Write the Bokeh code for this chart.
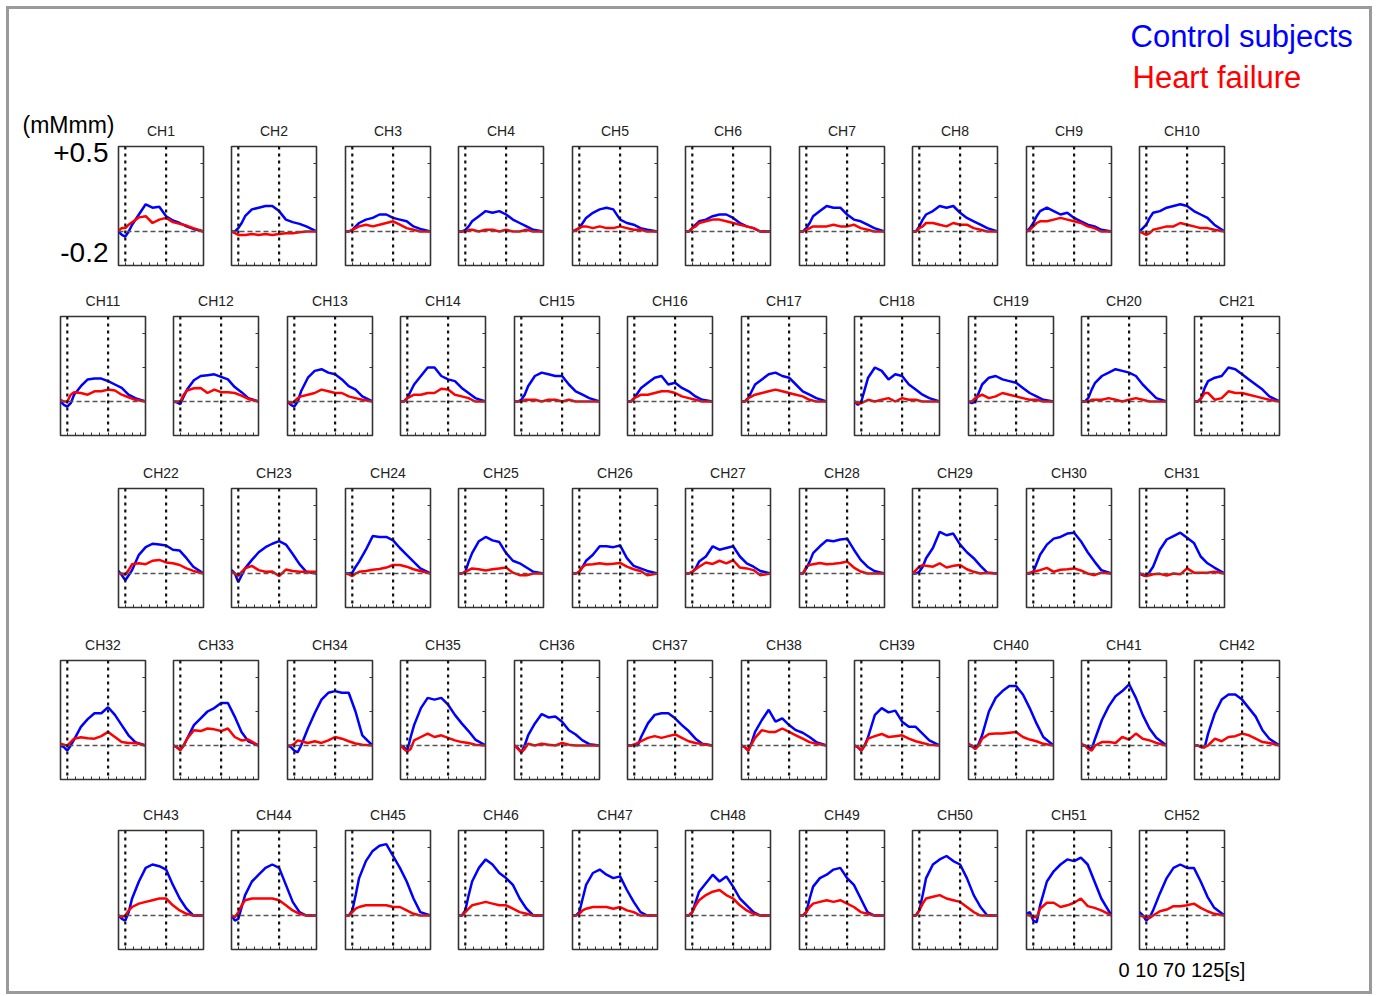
from bokeh.plotting import figure
from bokeh.layouts import column, row
from bokeh.models import (Range1d, Span, Label, LinearAxis, FixedTicker,
                          CustomJSTickFormatter, Title)
from bokeh.embed import file_html
from bokeh.resources import INLINE

# ---------------- data ----------------
time_s = [0, 5, 10, 15, 20, 30, 40, 50, 60, 70, 80, 90, 100, 110, 125]
channels = [f"CH{i}" for i in range(1, 53)]
series_names = ["Control subjects", "Heart failure"]
y_scale_ticks = [0.5, -0.2]
y_scale_labels = ["+0.5", "-0.2"]
y_unit = "(mMmm)"
time_note = "0 10 70 125[s]"

control = [
    [0, -0.02, -0.03, 0.0, 0.04, 0.10, 0.16, 0.14, 0.145, 0.09, 0.065, 0.05, 0.03, 0.015, 0],
    [0, 0.0, 0.02, 0.05, 0.09, 0.13, 0.14, 0.15, 0.15, 0.12, 0.07, 0.055, 0.045, 0.03, 0],
    [0, 0.0, 0.01, 0.03, 0.05, 0.07, 0.08, 0.1, 0.1, 0.08, 0.07, 0.06, 0.03, 0.015, 0],
    [0, 0.0, 0.01, 0.03, 0.06, 0.09, 0.12, 0.11, 0.12, 0.1, 0.07, 0.05, 0.03, 0.01, 0],
    [0, 0.01, 0.02, 0.05, 0.08, 0.11, 0.13, 0.14, 0.13, 0.07, 0.05, 0.04, 0.02, 0.01, 0],
    [0, 0.0, 0.02, 0.04, 0.06, 0.07, 0.09, 0.1, 0.1, 0.08, 0.05, 0.03, 0.02, 0.0, 0],
    [0, 0.0, 0.02, 0.05, 0.09, 0.12, 0.15, 0.14, 0.14, 0.1, 0.07, 0.06, 0.04, 0.02, 0],
    [0, 0.0, 0.03, 0.07, 0.1, 0.12, 0.15, 0.14, 0.15, 0.11, 0.08, 0.06, 0.04, 0.02, 0],
    [0, 0.02, 0.05, 0.09, 0.12, 0.14, 0.12, 0.1, 0.11, 0.08, 0.06, 0.04, 0.03, 0.01, 0],
    [0, 0.02, 0.04, 0.08, 0.11, 0.12, 0.14, 0.15, 0.16, 0.15, 0.12, 0.1, 0.08, 0.04, 0],
    [0, -0.02, -0.03, -0.01, 0.04, 0.09, 0.13, 0.135, 0.135, 0.12, 0.1, 0.08, 0.04, 0.02, 0],
    [0, -0.005, -0.015, 0.03, 0.07, 0.125, 0.15, 0.155, 0.16, 0.145, 0.13, 0.085, 0.055, 0.02, 0],
    [0, -0.02, -0.03, 0.0, 0.06, 0.14, 0.18, 0.19, 0.17, 0.16, 0.13, 0.09, 0.07, 0.03, 0],
    [0, 0.0, 0.02, 0.06, 0.1, 0.15, 0.2, 0.2, 0.15, 0.13, 0.12, 0.08, 0.05, 0.02, 0],
    [0, 0.0, 0.01, 0.04, 0.09, 0.15, 0.17, 0.16, 0.15, 0.15, 0.1, 0.06, 0.04, 0.02, 0],
    [0, 0.0, 0.02, 0.05, 0.08, 0.11, 0.14, 0.15, 0.1, 0.11, 0.08, 0.06, 0.03, 0.01, 0],
    [0, 0.0, 0.02, 0.06, 0.1, 0.13, 0.16, 0.17, 0.15, 0.14, 0.1, 0.06, 0.04, 0.02, 0],
    [0, -0.02, 0.0, 0.07, 0.14, 0.2, 0.18, 0.13, 0.16, 0.15, 0.1, 0.07, 0.04, 0.02, 0],
    [0, -0.01, 0.0, 0.05, 0.1, 0.14, 0.15, 0.13, 0.12, 0.11, 0.08, 0.05, 0.03, 0.01, 0],
    [0, 0.0, 0.02, 0.07, 0.11, 0.15, 0.17, 0.19, 0.18, 0.17, 0.15, 0.1, 0.06, 0.02, 0],
    [0, 0.0, 0.02, 0.08, 0.12, 0.14, 0.15, 0.2, 0.19, 0.16, 0.13, 0.1, 0.07, 0.03, 0],
    [0.015, -0.01, -0.04, -0.01, 0.02, 0.11, 0.155, 0.175, 0.17, 0.165, 0.14, 0.135, 0.09, 0.04, 0],
    [0.02, 0.0, -0.05, -0.01, 0.03, 0.08, 0.125, 0.155, 0.175, 0.19, 0.17, 0.115, 0.055, 0.01, 0],
    [0, 0.0, 0.005, 0.04, 0.07, 0.14, 0.22, 0.215, 0.215, 0.195, 0.15, 0.11, 0.07, 0.03, 0],
    [0, 0.0, 0.01, 0.07, 0.12, 0.19, 0.215, 0.195, 0.185, 0.12, 0.075, 0.06, 0.035, 0.01, 0],
    [0, 0.0, 0.01, 0.04, 0.075, 0.11, 0.16, 0.16, 0.155, 0.165, 0.09, 0.045, 0.03, 0.015, 0],
    [0, 0.0, 0.01, 0.03, 0.07, 0.1, 0.16, 0.14, 0.15, 0.16, 0.1, 0.06, 0.04, 0.015, 0],
    [0, 0.0, 0.03, 0.07, 0.12, 0.16, 0.195, 0.19, 0.2, 0.205, 0.14, 0.08, 0.04, 0.015, 0],
    [0, 0.0, 0.01, 0.04, 0.09, 0.15, 0.245, 0.225, 0.235, 0.17, 0.125, 0.09, 0.045, 0.005, 0],
    [0, 0.0, 0.01, 0.06, 0.11, 0.17, 0.205, 0.215, 0.235, 0.24, 0.19, 0.125, 0.07, 0.02, 0],
    [0, -0.01, -0.015, 0.01, 0.04, 0.14, 0.2, 0.22, 0.24, 0.21, 0.18, 0.1, 0.06, 0.035, 0],
    [0, -0.01, -0.03, 0.0, 0.035, 0.11, 0.155, 0.19, 0.19, 0.225, 0.18, 0.12, 0.06, 0.02, 0],
    [0, -0.01, -0.027, 0.0, 0.04, 0.12, 0.16, 0.2, 0.22, 0.25, 0.25, 0.17, 0.08, 0.025, 0],
    [0, -0.01, -0.03, -0.04, 0.0, 0.1, 0.19, 0.27, 0.31, 0.32, 0.31, 0.31, 0.2, 0.06, 0],
    [0, -0.01, -0.03, 0.05, 0.12, 0.22, 0.28, 0.27, 0.28, 0.24, 0.18, 0.13, 0.085, 0.035, 0],
    [0, -0.015, -0.04, 0.0, 0.06, 0.13, 0.185, 0.165, 0.17, 0.14, 0.09, 0.065, 0.03, 0.008, 0],
    [0, 0.0, 0.005, 0.0, 0.05, 0.13, 0.18, 0.19, 0.19, 0.16, 0.12, 0.085, 0.04, 0.01, 0],
    [0, -0.01, -0.03, 0.02, 0.08, 0.15, 0.21, 0.14, 0.16, 0.12, 0.09, 0.075, 0.05, 0.02, 0],
    [0, -0.01, -0.03, 0.0, 0.05, 0.18, 0.22, 0.195, 0.205, 0.14, 0.11, 0.11, 0.07, 0.03, 0],
    [0, -0.005, -0.02, 0.01, 0.06, 0.2, 0.28, 0.32, 0.35, 0.35, 0.3, 0.22, 0.13, 0.05, 0],
    [0, 0.0, -0.01, -0.02, 0.04, 0.15, 0.23, 0.29, 0.32, 0.36, 0.28, 0.18, 0.1, 0.045, 0],
    [0, 0.0, -0.01, -0.01, 0.07, 0.19, 0.27, 0.3, 0.3, 0.27, 0.22, 0.17, 0.09, 0.04, 0],
    [0, -0.02, -0.03, 0.02, 0.1, 0.2, 0.28, 0.3, 0.29, 0.27, 0.18, 0.1, 0.04, 0.0, 0],
    [0, -0.03, -0.02, 0.05, 0.12, 0.2, 0.24, 0.28, 0.3, 0.28, 0.18, 0.08, 0.02, 0.0, 0],
    [0, 0.0, 0.03, 0.12, 0.22, 0.32, 0.38, 0.41, 0.42, 0.35, 0.28, 0.2, 0.1, 0.02, 0],
    [0, 0.0, 0.03, 0.12, 0.2, 0.28, 0.33, 0.3, 0.25, 0.22, 0.18, 0.1, 0.04, 0.0, 0],
    [0, 0.0, 0.02, 0.1, 0.18, 0.25, 0.27, 0.24, 0.22, 0.23, 0.15, 0.08, 0.02, 0.0, 0],
    [0, 0.0, 0.02, 0.08, 0.14, 0.19, 0.24, 0.2, 0.23, 0.17, 0.1, 0.06, 0.02, 0.0, 0],
    [0, 0.0, 0.02, 0.1, 0.17, 0.22, 0.24, 0.27, 0.28, 0.22, 0.18, 0.1, 0.02, 0.0, 0],
    [0, 0.0, 0.03, 0.12, 0.22, 0.3, 0.33, 0.35, 0.32, 0.3, 0.22, 0.12, 0.05, 0.0, 0],
    [0.01, 0.02, -0.03, -0.04, 0.06, 0.2, 0.26, 0.3, 0.33, 0.32, 0.34, 0.3, 0.2, 0.1, 0],
    [0.02, 0.0, -0.03, -0.01, 0.03, 0.13, 0.22, 0.28, 0.3, 0.28, 0.28, 0.2, 0.11, 0.045, 0],
]

heart_failure = [
    [0.005, 0.02, 0.02, 0.04, 0.055, 0.083, 0.09, 0.05, 0.07, 0.08, 0.055, 0.045, 0.035, 0.02, 0],
    [0, -0.01, -0.02, -0.02, -0.02, -0.015, -0.02, -0.015, -0.02, -0.015, -0.01, -0.01, -0.005, 0, 0],
    [0, 0.0, 0.01, 0.02, 0.03, 0.04, 0.03, 0.04, 0.05, 0.06, 0.04, 0.02, 0.01, 0.0, 0],
    [0, 0.0, 0.0, 0.01, 0.01, 0.0, 0.01, 0.01, 0.0, 0.01, 0.0, 0.0, 0.01, 0.0, 0],
    [0, 0.01, 0.02, 0.03, 0.03, 0.02, 0.03, 0.02, 0.02, 0.03, 0.02, 0.01, 0.01, 0.0, 0],
    [0, 0.0, 0.02, 0.03, 0.05, 0.06, 0.07, 0.07, 0.06, 0.05, 0.04, 0.03, 0.02, 0.0, 0],
    [0, 0.0, 0.01, 0.02, 0.03, 0.03, 0.03, 0.04, 0.03, 0.03, 0.04, 0.02, 0.01, 0.0, 0],
    [0, 0.0, 0.02, 0.03, 0.05, 0.05, 0.04, 0.03, 0.05, 0.04, 0.04, 0.02, 0.01, 0.0, 0],
    [0, 0.01, 0.03, 0.05, 0.06, 0.06, 0.07, 0.08, 0.07, 0.06, 0.05, 0.03, 0.02, 0.0, 0],
    [0, -0.01, -0.02, -0.01, 0.01, 0.02, 0.03, 0.03, 0.05, 0.04, 0.03, 0.02, 0.02, 0.01, 0],
    [0.01, 0.0, 0.0, 0.04, 0.055, 0.05, 0.04, 0.06, 0.06, 0.07, 0.065, 0.04, 0.025, 0.01, 0],
    [0, 0.0, 0.0, 0.04, 0.065, 0.078, 0.08, 0.05, 0.07, 0.055, 0.055, 0.05, 0.035, 0.015, 0],
    [0, -0.01, 0.0, 0.02, 0.03, 0.04, 0.05, 0.07, 0.06, 0.05, 0.05, 0.03, 0.02, 0.01, 0],
    [0, 0.0, 0.02, 0.03, 0.04, 0.04, 0.05, 0.05, 0.075, 0.07, 0.04, 0.03, 0.02, 0.0, 0],
    [0, 0.0, 0.0, 0.01, 0.01, 0.01, 0.0, 0.01, 0.01, 0.0, 0.01, 0.0, 0.0, 0.0, 0],
    [0, 0.0, 0.02, 0.03, 0.04, 0.04, 0.05, 0.06, 0.06, 0.05, 0.03, 0.02, 0.01, 0.0, 0],
    [0, 0.0, 0.02, 0.03, 0.04, 0.05, 0.06, 0.07, 0.06, 0.05, 0.04, 0.03, 0.01, 0.0, 0],
    [0, -0.01, -0.01, 0.0, 0.01, 0.0, 0.01, 0.02, 0.0, 0.02, 0.01, 0.01, 0.0, 0.0, 0],
    [0, 0.0, 0.02, 0.03, 0.04, 0.02, 0.03, 0.05, 0.04, 0.03, 0.02, 0.01, 0.01, 0.0, 0],
    [0, 0.0, 0.0, 0.01, 0.01, 0.01, 0.02, 0.01, 0.0, 0.01, 0.02, 0.01, 0.0, 0.0, 0],
    [0, 0.0, 0.02, 0.05, 0.05, 0.01, 0.02, 0.06, 0.05, 0.05, 0.04, 0.03, 0.02, 0.01, 0],
    [0, 0.0, -0.005, 0.02, 0.055, 0.06, 0.055, 0.075, 0.08, 0.065, 0.06, 0.05, 0.03, 0.015, 0],
    [0.01, 0.0, -0.015, 0.01, 0.03, 0.045, 0.02, 0.01, 0.012, -0.015, 0.023, 0.015, 0.01, 0.01, 0.01],
    [0, -0.005, -0.015, 0.0, 0.01, 0.015, 0.022, 0.027, 0.035, 0.05, 0.05, 0.04, 0.025, 0.015, 0],
    [0, 0.0, 0.01, 0.02, 0.03, 0.025, 0.018, 0.025, 0.03, 0.035, 0.005, -0.01, -0.01, 0.0, 0],
    [0, 0.0, 0.01, 0.04, 0.052, 0.055, 0.06, 0.055, 0.058, 0.062, 0.04, 0.025, 0.015, -0.01, 0],
    [0, 0.0, 0.01, 0.025, 0.04, 0.065, 0.056, 0.075, 0.06, 0.078, 0.035, 0.03, 0.02, -0.01, 0],
    [0, 0.0, 0.04, 0.05, 0.055, 0.062, 0.055, 0.058, 0.062, 0.07, 0.035, 0.012, 0.0, 0.0, 0],
    [0, 0.02, 0.04, 0.05, 0.045, 0.04, 0.06, 0.035, 0.045, 0.05, 0.025, 0.01, 0.0, 0.005, 0],
    [0, 0.005, 0.01, 0.015, 0.02, 0.033, 0.01, 0.022, 0.025, 0.03, 0.018, 0.0, -0.01, 0.005, 0],
    [0, -0.005, -0.015, -0.01, -0.005, -0.002, -0.012, 0.0, -0.005, 0.03, 0.005, 0.005, 0.005, 0.01, 0],
    [0.01, 0.005, 0.0, 0.02, 0.04, 0.048, 0.042, 0.04, 0.055, 0.08, 0.05, 0.02, 0.015, 0.015, 0],
    [0, -0.01, -0.027, 0.0, 0.04, 0.09, 0.085, 0.1, 0.095, 0.085, 0.1, 0.05, 0.03, 0.035, 0],
    [0, 0.0, 0.01, 0.03, 0.025, 0.015, 0.025, 0.015, 0.03, 0.05, 0.04, 0.025, 0.012, 0.005, 0],
    [0, -0.02, -0.035, -0.02, 0.03, 0.05, 0.07, 0.05, 0.06, 0.045, 0.03, 0.02, 0.015, 0.005, 0],
    [0, -0.02, -0.04, -0.02, 0.01, 0.0, 0.01, 0.005, 0.0, 0.015, 0.005, 0.0, 0.0, 0.0, 0],
    [0, 0.0, 0.005, 0.015, 0.025, 0.045, 0.055, 0.045, 0.055, 0.065, 0.045, 0.025, 0.015, 0.008, 0],
    [0, -0.01, -0.03, 0.01, 0.045, 0.09, 0.08, 0.08, 0.1, 0.08, 0.06, 0.04, 0.02, 0.01, 0],
    [0, -0.01, -0.03, 0.0, 0.04, 0.055, 0.068, 0.05, 0.055, 0.06, 0.04, 0.025, 0.015, 0.005, 0],
    [0.01, 0.0, -0.02, 0.0, 0.04, 0.068, 0.07, 0.07, 0.075, 0.08, 0.05, 0.035, 0.025, 0.01, 0],
    [0.01, 0.0, -0.02, -0.03, 0.0, 0.02, 0.02, 0.015, 0.05, 0.035, 0.07, 0.04, 0.03, 0.015, 0],
    [0, 0.0, -0.01, -0.01, 0.0, 0.04, 0.025, 0.05, 0.055, 0.07, 0.06, 0.04, 0.02, 0.015, 0],
    [0, -0.01, 0.0, 0.03, 0.05, 0.07, 0.08, 0.09, 0.1, 0.1, 0.06, 0.03, 0.01, 0.0, 0],
    [0, -0.01, 0.02, 0.06, 0.09, 0.1, 0.1, 0.1, 0.1, 0.09, 0.06, 0.03, 0.01, 0.0, 0],
    [0, 0.0, 0.02, 0.04, 0.05, 0.06, 0.06, 0.06, 0.06, 0.05, 0.05, 0.03, 0.01, 0.0, 0],
    [0, 0.0, 0.02, 0.04, 0.06, 0.07, 0.08, 0.07, 0.06, 0.06, 0.04, 0.02, 0.01, 0.0, 0],
    [0, 0.0, 0.01, 0.03, 0.04, 0.05, 0.05, 0.05, 0.04, 0.05, 0.03, 0.02, 0.0, 0.0, 0],
    [0, 0.0, 0.02, 0.06, 0.09, 0.12, 0.14, 0.15, 0.12, 0.1, 0.06, 0.03, 0.01, 0.0, 0],
    [0, 0.0, 0.02, 0.05, 0.07, 0.08, 0.09, 0.08, 0.09, 0.07, 0.05, 0.02, 0.01, 0.0, 0],
    [0, 0.0, 0.03, 0.07, 0.1, 0.11, 0.12, 0.1, 0.09, 0.08, 0.05, 0.02, 0.0, 0.0, 0],
    [0.005, 0.0, -0.01, -0.01, 0.04, 0.075, 0.075, 0.05, 0.06, 0.075, 0.1, 0.055, 0.045, 0.03, 0],
    [0.0, -0.005, -0.01, -0.015, 0.0, 0.025, 0.035, 0.055, 0.055, 0.06, 0.07, 0.045, 0.025, 0.01, 0],
]

marker_times = [10, 70]          # dotted vertical lines (s)
x_tick_times = [10, 22, 34, 46, 58, 70, 82, 94, 106, 118]
y_tick_vals = [0.0, 0.2, 0.4]
row_counts = [10, 11, 10, 11, 10]

# ---------------- styling / layout ----------------
FONT = "Liberation Sans"
BLUE, RED = "#0000ff", "#ff0000"
FRAME_W, FRAME_H = 85, 119
PITCH = 113.45
ROW_X0 = [118, 60, 118, 60, 118]      # page x of first frame in each row
ROW_TOP = [45, 35, 35, 35, 35]        # top border of each row
ROW_BOT = [16, 18, 18, 16, 42]        # bottom border of each row
CONTENT_L, CONTENT_R = 9, 1369
HEADER_H = 92
ANNOT_W = 107                         # width of the left annotation strip in row 1


def empty_fmt():
    return CustomJSTickFormatter(code="return ''")


def make_panel(idx, lb, rb, tb, bb):
    p = figure(frame_width=FRAME_W, frame_height=FRAME_H,
               x_range=Range1d(0, 125), y_range=Range1d(-0.2, 0.5),
               x_axis_type=None, y_axis_type=None,
               toolbar_location=None, output_backend="svg",
               min_border_left=lb, min_border_right=rb,
               min_border_top=tb, min_border_bottom=bb,
               outline_line_color="#333333", outline_line_width=1.6,
               title=channels[idx])
    p.title.align = "center"
    p.title.offset = -4
    p.title.text_font = FONT
    p.title.text_font_size = "14px"
    p.title.text_font_style = "normal"
    p.title.text_color = "#222222"
    p.title.standoff = 16

    xb = LinearAxis(ticker=FixedTicker(ticks=x_tick_times), formatter=empty_fmt(),
                    major_tick_in=3, major_tick_out=0, minor_tick_line_color=None,
                    axis_line_color=None, major_label_text_font_size="0px",
                    major_label_standoff=0, major_tick_line_color="#333333")
    p.add_layout(xb, "below")
    yr = LinearAxis(ticker=FixedTicker(ticks=y_tick_vals), formatter=empty_fmt(),
                    major_tick_in=3, major_tick_out=0, minor_tick_line_color=None,
                    axis_line_color=None, major_label_text_font_size="0px",
                    major_label_standoff=0, major_tick_line_color="#333333")
    p.add_layout(yr, "right")

    p.add_layout(Span(location=0, dimension="width", line_color="#555555",
                      line_width=1.5, line_dash="5 3"))
    for t in marker_times:
        p.add_layout(Span(location=t, dimension="height", line_color="#111111",
                          line_width=2.2, line_dash="3 4"))

    p.line(time_s, control[idx], line_color=BLUE, line_width=2.5)
    p.line(time_s, heart_failure[idx], line_color=RED, line_width=2.5)
    return p, xb


def make_scale_strip(width, tb, bb):
    """Narrow plot at the left of row 1 carrying the shared y scale and unit."""
    s = figure(frame_width=2, frame_height=FRAME_H,
               x_range=Range1d(0, 1), y_range=Range1d(-0.2, 0.5),
               x_axis_type=None, y_axis_type=None,
               toolbar_location=None, output_backend="svg",
               min_border_left=width - 4, min_border_right=2,
               min_border_top=tb, min_border_bottom=bb,
               outline_line_color=None, title=None)
    # label positions nudged so the text sits like the original's
    tick_pos = [y_scale_ticks[0] - 0.038, y_scale_ticks[1] + 0.074]
    ax = LinearAxis(ticker=FixedTicker(ticks=tick_pos),
                    major_label_overrides={tick_pos[0]: y_scale_labels[0],
                                           tick_pos[1]: y_scale_labels[1]},
                    major_tick_in=0, major_tick_out=0, minor_tick_line_color=None,
                    axis_line_color=None, major_label_standoff=4,
                    major_label_text_font=FONT, major_label_text_font_size="28px",
                    major_label_text_color="#000000")
    s.add_layout(ax, "left")
    s.add_layout(Title(text=y_unit, align="left", offset=22 - 112, standoff=17,
                       text_font=FONT, text_font_size="23px",
                       text_font_style="normal", text_color="#000000"), "above")
    return s


panels, bottom_axes = [], []
rows = []
start = 0
for r, n in enumerate(row_counts):
    frames = [round(ROW_X0[r] + k * PITCH) for k in range(n)]
    first_left = CONTENT_L + (ANNOT_W if r == 0 else 0)
    lbs = [frames[0] - first_left] + [24] * (n - 1)
    edges = [f - lb for f, lb in zip(frames, lbs)] + [CONTENT_R]
    figs = []
    for k in range(n):
        rb = edges[k + 1] - (frames[k] + FRAME_W)
        p, xb = make_panel(start + k, lbs[k], rb, ROW_TOP[r], ROW_BOT[r])
        figs.append(p)
        panels.append(p)
        bottom_axes.append(xb)
    if r == 0:
        figs = [make_scale_strip(ANNOT_W, ROW_TOP[0], ROW_BOT[0])] + figs
    rows.append(row(*figs))
    start += n

# time annotation under CH52
xb52 = bottom_axes[-1]
xb52.axis_label = time_note
xb52.axis_label_text_font = FONT
xb52.axis_label_text_font_size = "20px"
xb52.axis_label_text_font_style = "normal"
xb52.axis_label_text_color = "#000000"
xb52.axis_label_standoff = 9

# header with coloured series names (data units = pixels, y downward)
hdr_w = CONTENT_R - CONTENT_L
header = figure(width=hdr_w, height=HEADER_H, x_range=Range1d(0, hdr_w),
                y_range=Range1d(HEADER_H, 0), x_axis_type=None, y_axis_type=None,
                toolbar_location=None, output_backend="svg", title=None,
                min_border=0, outline_line_color=None)
header.add_layout(Label(x=1121, y=27, text=series_names[0], text_color=BLUE,
                        text_font=FONT, text_font_size="31px",
                        text_baseline="middle", text_align="left"))
header.add_layout(Label(x=1123, y=67.5, text=series_names[1], text_color=RED,
                        text_font=FONT, text_font_size="31px",
                        text_baseline="middle", text_align="left"))

layout = column(header, *rows,
                styles={"border": "3px solid #9a9a9a", "margin": "6px 0 0 6px"})

open("out.html", "w").write(file_html(layout, INLINE))
